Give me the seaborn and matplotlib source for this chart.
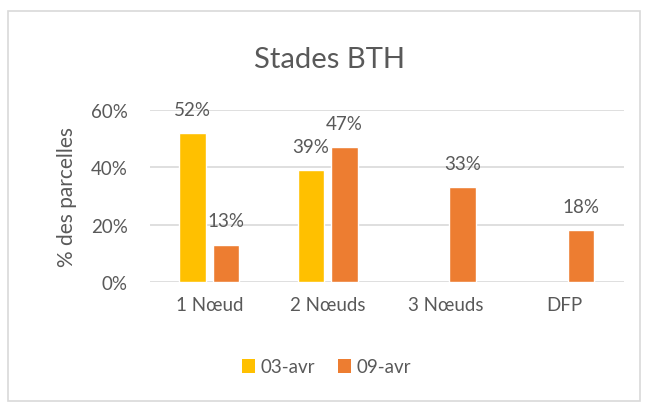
import numpy as np
import pandas as pd
import matplotlib
matplotlib.use("Agg")
import matplotlib.pyplot as plt
import seaborn as sns
from matplotlib.patches import Rectangle, Patch

categories = ["1 Nœud", "2 Nœuds", "3 Nœuds", "DFP"]
series_names = ["03-avr", "09-avr"]
values_0304 = [0.52, 0.39, np.nan, np.nan]
values_0904 = [0.13, 0.47, 0.33, 0.18]
yticks = [0, 0.2, 0.4, 0.6]
ytick_labels = ["0%", "20%", "40%", "60%"]
colors = ["#FFC000", "#ED7D31"]

df = pd.DataFrame({
    "Stade": categories * 2,
    "Date": [series_names[0]] * 4 + [series_names[1]] * 4,
    "Valeur": values_0304 + values_0904,
})

sns.set_style("white")
plt.rcParams["font.family"] = ["Lato", "DejaVu Sans"]
txt = "#595959"

fig = plt.figure(figsize=(6.47, 4.06), dpi=100)
ax = fig.add_axes([0.232, 0.303, 0.732, 0.424])

sns.barplot(data=df, x="Stade", y="Valeur", hue="Date", order=categories,
            hue_order=series_names, palette=colors, width=0.56, gap=0.2,
            ax=ax, legend=False, saturation=1)

ax.set_ylim(0, 0.6)
ax.set_yticks(yticks)
ax.set_yticklabels(ytick_labels)
ax.set_xlim(-0.5, 3.5)
ax.yaxis.grid(True, color="#D9D9D9", linewidth=1.2)
ax.set_axisbelow(True)
for s in ax.spines.values():
    s.set_visible(False)
ax.tick_params(axis="both", length=0, labelsize=13.5, colors=txt)
ax.tick_params(axis="y", pad=16)
ax.tick_params(axis="x", pad=10)
ax.set_xlabel("")
ax.set_ylabel("% des parcelles", fontsize=15, color=txt, labelpad=10)

for cont in ax.containers:
    for bar in cont:
        if bar is None:
            continue
        h = bar.get_height()
        if h is None or np.isnan(h):
            continue
        ax.annotate(f"{round(h * 100):d}%", (bar.get_x() + bar.get_width() / 2, h),
                    xytext=(0, 11), textcoords="offset points", ha="center",
                    va="bottom", fontsize=13.5, color=txt)

fig.text(0.51, 1 - 60 / 406, "Stades BTH", ha="center", va="center",
         fontsize=21, color=txt)

handles = [Patch(facecolor=c, edgecolor="none") for c in colors]
fig.legend(handles, series_names, loc="center", bbox_to_anchor=(0.505, 1 - 368 / 406),
           ncol=2, frameon=False, fontsize=13.5, labelcolor=txt,
           handlelength=0.7, handleheight=0.7, handletextpad=0.3, columnspacing=1.2)

fig.patches.append(Rectangle((8 / 647, 1 - 402 / 406), 632 / 647, 390 / 406,
                             transform=fig.transFigure, fill=False,
                             edgecolor="#D9D9D9", linewidth=1.2))

fig.savefig("out.png", dpi=100)
